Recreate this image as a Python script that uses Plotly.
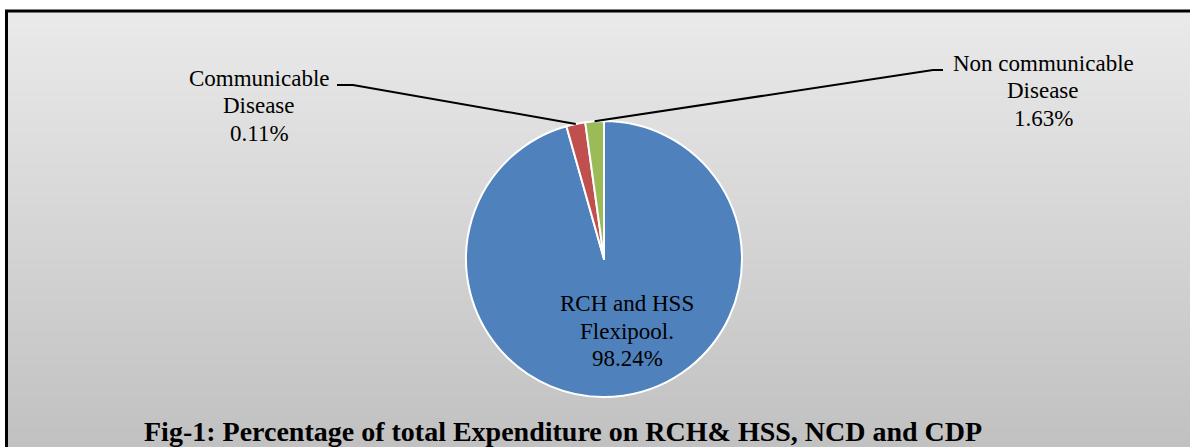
import math
import plotly.graph_objects as go

# ---------------- data ----------------
categories = ["RCH and HSS Flexipool.", "Communicable Disease", "Non communicable Disease"]
label_lines = [["RCH and HSS", "Flexipool."], ["Communicable", "Disease"], ["Non communicable", "Disease"]]
label_pct = ["98.24%", "0.11%", "1.63%"]          # percentages printed on the chart
slice_share = [95.61, 2.22, 2.17]                  # slice sizes as drawn
slice_colors = ["#4F81BD", "#C0504D", "#9BBB59"]
title_text = "Fig-1: Percentage of total Expenditure on RCH& HSS, NCD and CDP"

# ---------------- layout constants ----------------
W, H = 1190, 447
CX, CY, R = 604, 259, 138
FONT = "Liberation Serif, Times New Roman, serif"
LBL_SIZE = 23
LINE_GAP = 27.5


def px(x):
    return x / W


def py(y):
    return 1 - y / H


fig = go.Figure()

fig.add_trace(go.Pie(
    labels=categories,
    values=slice_share,
    sort=False,
    direction="clockwise",
    rotation=0,
    marker=dict(colors=slice_colors, line=dict(color="white", width=2)),
    textinfo="none",
    hovertemplate="%{label}<extra></extra>",
    showlegend=False,
    domain=dict(x=[px(CX - R), px(CX + R)], y=[py(CY + R), py(CY - R)]),
))

shapes = []

# chart-area gradient background
top_y, bot_y = 10, H + 5
c_top, c_bot = (234, 234, 234), (192, 192, 192)
step = 3
y = top_y
while y < bot_y:
    t = (y - top_y) / (bot_y - top_y)
    col = tuple(round(a + (b - a) * t) for a, b in zip(c_top, c_bot))
    shapes.append(dict(type="rect", xref="paper", yref="paper", layer="below",
                       x0=px(6), x1=px(W + 10), y0=py(y + step + 1), y1=py(y),
                       fillcolor="rgb(%d,%d,%d)" % col, line=dict(width=0)))
    y += step

# chart-area border
shapes.append(dict(type="rect", xref="paper", yref="paper", layer="above",
                   x0=px(6.5), x1=px(W + 20), y0=py(H + 20), y1=py(11),
                   line=dict(color="black", width=3), fillcolor="rgba(0,0,0,0)"))

# leader lines: label end -> slice mid-angle on the rim
total = sum(slice_share)
cum = [sum(slice_share[:i]) for i in range(len(slice_share))]
mid_deg = [360 * (cum[i] + slice_share[i] / 2) / total for i in range(len(slice_share))]
leader_starts = {1: [(337, 85), (353, 85)], 2: [(943, 70), (933, 70)]}
for i, pts in leader_starts.items():
    a = math.radians(mid_deg[i])
    ex, ey = CX + R * math.sin(a), CY - R * math.cos(a)
    allp = pts + [(ex, ey)]
    path = "M " + " L ".join("%f,%f" % (px(x), py(y)) for x, y in allp)
    shapes.append(dict(type="path", xref="paper", yref="paper", path=path,
                       line=dict(color="black", width=2), layer="above"))

fig.update_layout(shapes=shapes)

# data labels (one annotation per text line)
label_pos = [(627, 311.7), (259, 86), (1043, 71)]
for i, (lx, base) in enumerate(label_pos):
    lines = label_lines[i] + [label_pct[i]]
    for j, t in enumerate(lines):
        b = base + j * LINE_GAP
        fig.add_annotation(x=px(lx), y=py(b - 0.3375 * LBL_SIZE), xref="paper", yref="paper",
                           text=t, showarrow=False, xanchor="center", yanchor="middle",
                           font=dict(family=FONT, size=LBL_SIZE, color="black"))

# caption
TS = 28
fig.add_annotation(x=px(142), y=py(441 - 0.3375 * TS), xref="paper", yref="paper",
                   text="<b>" + title_text + "</b>", showarrow=False,
                   xanchor="left", yanchor="middle",
                   font=dict(family=FONT, size=TS, color="black"))

fig.update_layout(width=W, height=H, margin=dict(l=0, r=0, t=0, b=0),
                  paper_bgcolor="white", plot_bgcolor="white")

fig.write_html("out.html")
